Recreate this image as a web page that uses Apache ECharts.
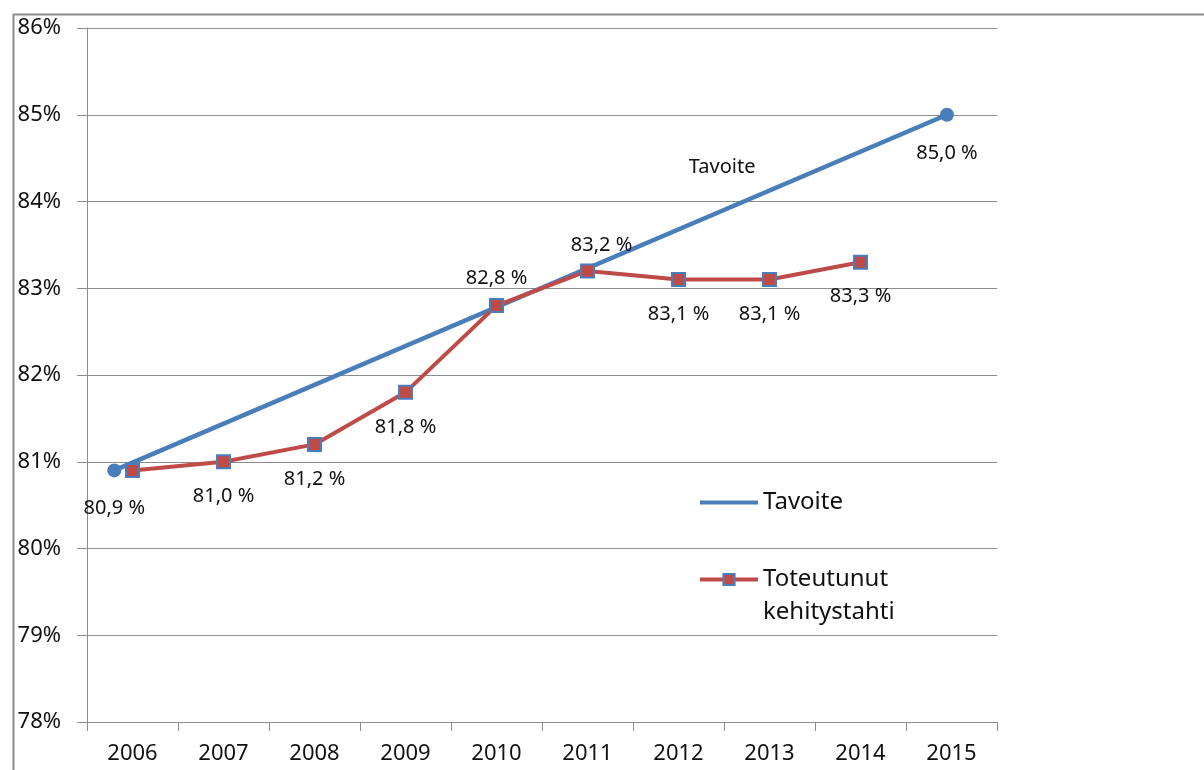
<!DOCTYPE html>
<html>
<head>
<meta charset="utf-8">
<script src="https://cdn.jsdelivr.net/npm/echarts@6/dist/echarts.min.js"></script>
<style>
  html, body { margin: 0; padding: 0; background: #fff; }
  #chart { width: 1204px; height: 770px; }
</style>
</head>
<body>
<div id="chart"></div>
<script>
// 数据
const years = ['2006', '2007', '2008', '2009', '2010', '2011', '2012', '2013', '2014', '2015']
const toteutunut = [80.9, 81.0, 81.2, 81.8, 82.8, 83.2, 83.1, 83.1, 83.3, null]
// 目标线: [年份位置, 值]
const tavoite = [[2005.8, 80.9], [2014.95, 85.0]]
const yMin = 78
const yMax = 86

const blue = '#4A7EBB'
const red = '#BE4B48'
const font = 'Noto Sans'

function fmt (v) {
  return v.toFixed(1).replace('.', ',') + ' %'
}

const chart = echarts.init(document.getElementById('chart'))

// 实际值 数据点 (2006 无标签, 2010/2011 标签在上方)
const redData = toteutunut.map((v, i) => {
  if (v === null) return null
  if (i === 0) return { value: v, label: { show: false } }
  if (i === 4) return { value: v, label: { position: 'top', distance: 10 } }
  if (i === 5) return { value: v, label: { position: 'top', distance: 8, offset: [14, 0] } }
  return v
})

const blueData = tavoite.map((p, i) => ({
  value: p,
  symbol: 'circle',
  symbolSize: 14,
  label: {
    show: true,
    position: 'bottom',
    distance: i === 0 ? 21 : 22,
    formatter: fmt(p[1])
  }
}))

const option = {
  backgroundColor: '#fff',
  animation: false,
  textStyle: { fontFamily: font },
  graphic: [{
    type: 'rect',
    left: 11,
    top: 12,
    shape: { width: 1300, height: 900 },
    style: { fill: 'none', stroke: '#8c8c8c', lineWidth: 2 },
    silent: true
  }],
  grid: { left: 87, right: 207, top: 28, bottom: 48 },
  legend: {
    orient: 'vertical',
    left: 693,
    top: 481,
    itemWidth: 58,
    itemHeight: 14,
    itemGap: 11,
    lineStyle: { width: 4 },
    textStyle: { fontFamily: font, fontSize: 24, color: '#111', lineHeight: 33 },
    // 图例第二项: 图标对齐第一行
    formatter: name => name === 'Toteutunut kehitystahti' ? '\nToteutunut\nkehitystahti' : name,
    data: [
      { name: 'Tavoite', itemStyle: { color: 'rgba(0,0,0,0)', borderWidth: 0 } },
      { name: 'Toteutunut kehitystahti' }
    ]
  },
  xAxis: [{
    type: 'category',
    data: years,
    boundaryGap: true,
    axisLine: { lineStyle: { color: '#8c8c8c', width: 1 } },
    axisTick: { show: true, length: 9, lineStyle: { color: '#8c8c8c' } },
    axisLabel: { fontFamily: font, fontSize: 22, color: '#111', margin: 21 }
  }, {
    type: 'value',
    min: 2005.5,
    max: 2015.5,
    show: false
  }],
  yAxis: {
    type: 'value',
    min: yMin,
    max: yMax,
    interval: 1,
    axisLine: { show: true, lineStyle: { color: '#8c8c8c' } },
    axisTick: { show: true, inside: false, length: 10, lineStyle: { color: '#8c8c8c' } },
    splitLine: { lineStyle: { color: '#8c8c8c', width: 1 } },
    axisLabel: {
      fontFamily: font, fontSize: 22, color: '#111', margin: 26,
      formatter: '{value}%'
    }
  },
  series: [{
    name: 'Tavoite',
    type: 'line',
    xAxisIndex: 1,
    symbol: 'none',
    lineStyle: { color: blue, width: 4.5 },
    itemStyle: { color: blue },
    label: { fontFamily: font, fontSize: 20, color: '#111' },
    data: blueData,
    z: 2,
    markPoint: {
      symbol: 'circle',
      symbolSize: 1,
      itemStyle: { color: 'rgba(0,0,0,0)' },
      label: {
        show: true, position: 'inside', formatter: 'Tavoite',
        fontFamily: font, fontSize: 20, color: '#111'
      },
      data: [{ coord: [2012.48, 84.4] }]
    }
  }, {
    name: 'Toteutunut kehitystahti',
    type: 'line',
    symbol: 'rect',
    symbolSize: 13,
    lineStyle: { color: red, width: 4 },
    itemStyle: { color: red, borderColor: blue, borderWidth: 2 },
    label: {
      show: true,
      position: 'bottom',
      distance: 17,
      fontFamily: font,
      fontSize: 20,
      color: '#111',
      formatter: p => fmt(p.value)
    },
    data: redData,
    z: 3
  }]
}

chart.setOption(option)
window.onresize = function () {
  chart.resize()
}
</script>
</body>
</html>
